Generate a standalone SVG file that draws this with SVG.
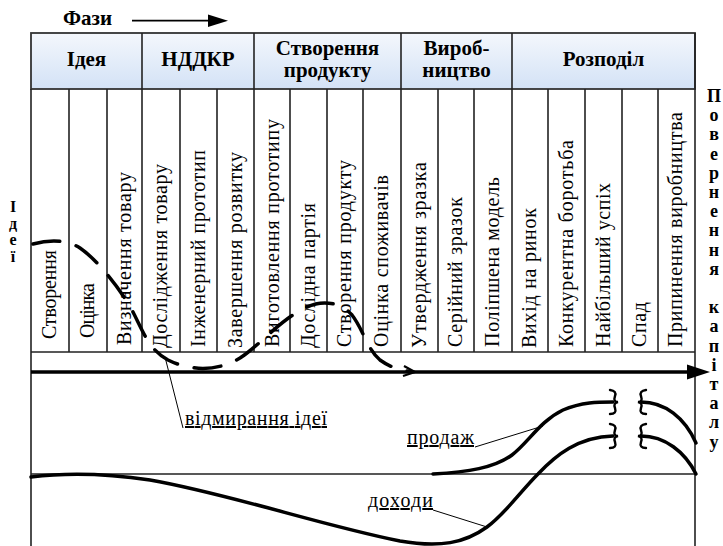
<svg xmlns="http://www.w3.org/2000/svg" width="723" height="546" viewBox="0 0 723 546">
<defs>
<linearGradient id="hdr" x1="0" y1="0" x2="0" y2="1">
<stop offset="0" stop-color="#f4f7fc"/>
<stop offset="1" stop-color="#d3e2f6"/>
</linearGradient>
<style>
text{font-family:'Liberation Serif','Times New Roman',serif;fill:#000}
.b{font-weight:bold;font-size:21px}
.c{font-size:20px}
.lbl{font-size:20px;text-decoration:underline}
.side{font-weight:bold}
.grid{stroke:#222;stroke-width:1.6;fill:none}
.thin{stroke:#000;stroke-width:1;fill:none}
.curve{stroke:#000;stroke-width:3.5;fill:none;stroke-linecap:round}
.brace{stroke:#000;stroke-width:2.4;fill:none;stroke-linecap:round}
.dash{stroke:#000;stroke-width:3.5;fill:none;stroke-linecap:round;stroke-dasharray:27 17}
</style>
</defs>
<rect width="723" height="546" fill="#fff"/>

<g id="phases-title">
<text class="b" x="63" y="25">Фази</text>
<line x1="132" y1="20.7" x2="210" y2="20.7" stroke="#000" stroke-width="1.8"/>
<polygon points="208,14.5 228,20.7 208,27" fill="#000"/>
</g>

<g id="header">
<rect x="31" y="33" width="664" height="56" fill="url(#hdr)" stroke="#333" stroke-width="1.8"/>
<line class="grid" x1="142" y1="33" x2="142" y2="89"/>
<line class="grid" x1="254" y1="33" x2="254" y2="89"/>
<line class="grid" x1="401" y1="33" x2="401" y2="89"/>
<line class="grid" x1="512" y1="33" x2="512" y2="89"/>
<g id="phase-idea"><text class="b" x="86.5" y="66" text-anchor="middle">Ідея</text></g>
<g id="phase-rnd"><text class="b" x="198" y="66" text-anchor="middle">НДДКР</text></g>
<g id="phase-product"><text class="b" x="327.5" y="54.5" text-anchor="middle">Створення</text><text class="b" x="327.5" y="76.5" text-anchor="middle">продукту</text></g>
<g id="phase-production"><text class="b" x="456.5" y="55" text-anchor="middle">Вироб-</text><text class="b" x="456.5" y="77" text-anchor="middle">ництво</text></g>
<g id="phase-distribution"><text class="b" x="603.5" y="66" text-anchor="middle">Розподіл</text></g>
</g>

<g id="table-frame">
<path class="grid" d="M31,89 V546 M695,33 V546 M31,352 H695 M31,474 H695"/>
<path class="grid" d="M69,89V352 M107,89V352 M142,89V352 M180,89V352 M217,89V352 M254,89V352 M290,89V352 M327,89V352 M363,89V352 M401,89V352 M438,89V352 M474,89V352 M512,89V352 M548,89V352 M585,89V352 M622,89V352 M658,89V352"/>
</g>

<g id="stages">
<g id="s1"><text class="c" transform="translate(56,339) rotate(-90)" textLength="89">Створення</text></g>
<g id="s2"><text class="c" transform="translate(94,338) rotate(-90)" textLength="55">Оцінка</text></g>
<g id="s3"><text class="c" transform="translate(130.5,345) rotate(-90)" textLength="173">Визначення товару</text></g>
<g id="s4"><text class="c" transform="translate(167,348) rotate(-90)" textLength="184">Дослідження товару</text></g>
<g id="s5"><text class="c" transform="translate(204.5,347) rotate(-90)" textLength="197">Інженерний прототип</text></g>
<g id="s6"><text class="c" transform="translate(241.5,348) rotate(-90)" textLength="196">Завершення розвитку</text></g>
<g id="s7"><text class="c" transform="translate(279,347) rotate(-90)" textLength="228">Виготовлення прототипу</text></g>
<g id="s8"><text class="c" transform="translate(314.5,348) rotate(-90)" textLength="145">Дослідна партія</text></g>
<g id="s9"><text class="c" transform="translate(351,347) rotate(-90)" textLength="187">Створення продукту</text></g>
<g id="s10"><text class="c" transform="translate(388,347) rotate(-90)" textLength="172">Оцінка споживачів</text></g>
<g id="s11"><text class="c" transform="translate(425.5,348) rotate(-90)" textLength="186">Утвердження зразка</text></g>
<g id="s12"><text class="c" transform="translate(462,347) rotate(-90)" textLength="150">Серійний зразок</text></g>
<g id="s13"><text class="c" transform="translate(499,347) rotate(-90)" textLength="170">Поліпшена модель</text></g>
<g id="s14"><text class="c" transform="translate(536,348) rotate(-90)" textLength="140">Вихід на ринок</text></g>
<g id="s15"><text class="c" transform="translate(572.5,347) rotate(-90)" textLength="207">Конкурентна боротьба</text></g>
<g id="s16"><text class="c" transform="translate(609.5,347) rotate(-90)" textLength="164">Найбільший успіх</text></g>
<g id="s17"><text class="c" transform="translate(646,347) rotate(-90)" textLength="45">Спад</text></g>
<g id="s18"><text class="c" transform="translate(682,347) rotate(-90)" textLength="235">Припинення виробництва</text></g>
</g>

<g id="side-labels">
<text class="side" font-size="16" text-anchor="middle"><tspan x="13" y="212">І</tspan><tspan x="13" y="228.5">д</tspan><tspan x="13" y="245">е</tspan><tspan x="13" y="261.5">ї</tspan></text>
<text class="side" font-size="18" text-anchor="middle"><tspan x="714" y="102">П</tspan><tspan x="714" dy="19.2">о</tspan><tspan x="714" dy="19.2">в</tspan><tspan x="714" dy="19.2">е</tspan><tspan x="714" dy="19.2">р</tspan><tspan x="714" dy="19.2">н</tspan><tspan x="714" dy="19.2">е</tspan><tspan x="714" dy="19.2">н</tspan><tspan x="714" dy="19.2">н</tspan><tspan x="714" dy="19.2">я</tspan><tspan x="714" dy="38.4">к</tspan><tspan x="714" dy="19.2">а</tspan><tspan x="714" dy="19.2">п</tspan><tspan x="714" dy="19.2">і</tspan><tspan x="714" dy="19.2">т</tspan><tspan x="714" dy="19.2">а</tspan><tspan x="714" dy="19.2">л</tspan><tspan x="714" dy="19.2">у</tspan></text>
</g>

<g id="connectors">
<line x1="31" y1="372" x2="690" y2="372" stroke="#000" stroke-width="3.5"/>
<polygon points="687,364.5 710,372 687,379.5" fill="#000"/>
<path class="dash" d="M33,244 C48,240 66,239 80,248 C96,259 120,287 134,314 C145,336 150,350 168,360 C188,370 215,373 240,358 C260,345 280,320 305,308 C320,300 340,301 352,315 C363,329 367,349 380,360 C391,368 401,370 410,371.5"/>
<path d="M404,366 L415,372 L403,376" stroke="#000" stroke-width="2.2" fill="none"/>
<path class="thin" d="M165,357 L183,428"/>
<path class="thin" d="M475,447 L543,426"/>
<path class="thin" d="M433,510 L487,527"/>
<path class="curve" d="M433,474 C468,472 494,468 512,455 C528,443 540,421 563,410 C582,402 598,402 613,402"/>
<path class="curve" d="M641,402 C665,402 685,418 696,443"/>
<path class="curve" d="M31,477 C70,472 110,474 150,480 C230,494 320,525 400,541 C440,548 465,543 487,527 C505,514 520,492 538,474 C556,455 578,437 613,436"/>
<path class="curve" d="M641,436 C665,436 685,452 696,474"/>
<path class="brace" d="M610,390 Q617,391 615,396 Q613,402 618,402 Q613,403 615,408 Q617,414 610,414"/>
<path class="brace" d="M646,390 Q639,391 641,396 Q643,402 638,402 Q643,403 641,408 Q639,414 646,414"/>
<path class="brace" d="M610,424 Q617,425 615,430 Q613,436 618,436 Q613,437 615,442 Q617,448 610,448"/>
<path class="brace" d="M646,424 Q639,425 641,430 Q643,436 638,436 Q643,437 641,442 Q639,448 646,448"/>
</g>

<g id="labels">
<text class="lbl" x="185" y="425" textLength="142">відмирання ідеї</text>
<text class="lbl" x="407" y="444" textLength="67">продаж</text>
<text class="lbl" x="368" y="507" textLength="65">доходи</text>
</g>
</svg>
